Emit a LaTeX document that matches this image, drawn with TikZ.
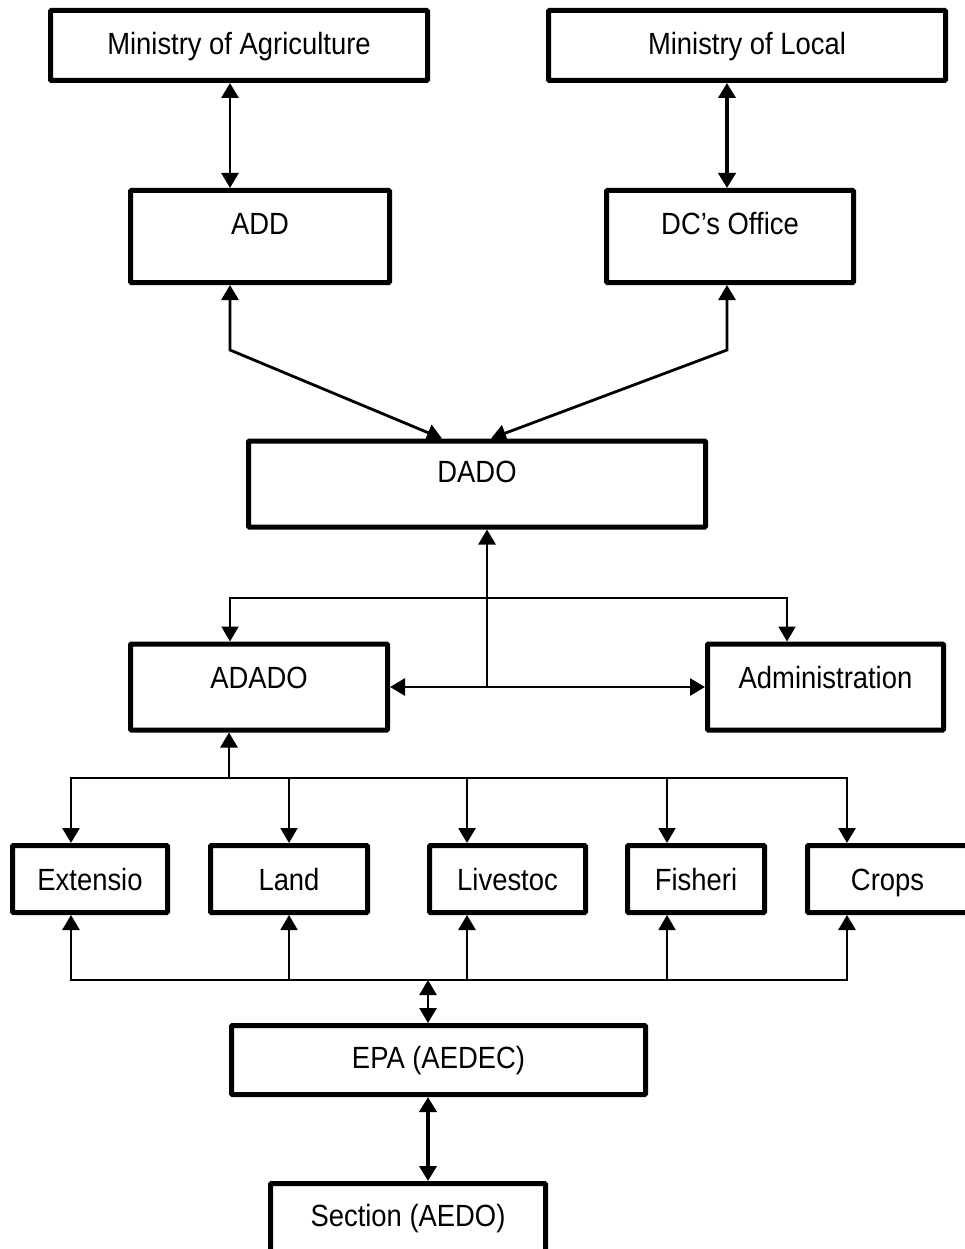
\documentclass[tikz,border=0pt]{standalone}
\usepackage{fontspec}
\setmainfont{Liberation Sans}
\usetikzlibrary{arrows.meta}
\newcommand{\bt}[2]{\raisebox{\dimexpr#1pt-11pt\relax}[0pt][0pt]{\scalebox{1}[1.12]{#2}}}
\begin{document}
\begin{tikzpicture}[x=1pt,y=-1pt,
  box/.style={draw, line width=5pt, inner sep=0pt, rounded corners=1pt, font=\fontsize{27.4}{30}\selectfont},
  con/.style={line width=2.8pt, line join=miter},
  thn/.style={line width=1.9pt, line join=miter},
  fat/.style={line width=4pt},
  tip/.style={-{Triangle[length=15pt,width=17pt]}},
  dbl/.style={{Triangle[length=15pt,width=17pt]}-{Triangle[length=15pt,width=17pt]}}]
\useasboundingbox (0,0) rectangle (964,1249);
% boxes
\node[box, minimum width=377pt, minimum height=70pt] (minag) at (239,45.5) {\bt{1.5}{Ministry of Agriculture}};
\node[box, minimum width=397pt, minimum height=70pt] (minloc) at (747,45.5) {\bt{1.5}{Ministry of Local}};
\node[box, minimum width=259pt, minimum height=92pt] (add) at (260,236.5) {\bt{12.5}{ADD}};
\node[box, minimum width=247pt, minimum height=92pt] (dc) at (730,236.5) {\bt{12.5}{DC’s Office}};
\node[box, minimum width=457pt, minimum height=86pt] (dado) at (477,484) {\bt{13}{DADO}};
\node[box, minimum width=257pt, minimum height=86pt] (adado) at (259,687) {\bt{10}{ADADO}};
\node[box, minimum width=236pt, minimum height=86pt] (admin) at (825.5,687) {\bt{10}{Administration}};
\node[box, minimum width=155pt, minimum height=67pt] (ext) at (90,879) {\bt{0}{Extensio}};
\node[box, minimum width=157pt, minimum height=67pt] (land) at (289,879) {\bt{0}{Land}};
\node[box, minimum width=156pt, minimum height=67pt] (live) at (507.5,879) {\bt{0}{Livestoc}};
\node[box, minimum width=137pt, minimum height=67pt] (fish) at (696,879) {\bt{0}{Fisheri}};
\node[box, minimum width=160pt, minimum height=67pt] (crops) at (887.5,879) {\bt{0}{Crops}};
\node[box, minimum width=414pt, minimum height=69pt] (epa) at (438.5,1060) {\bt{3}{EPA (AEDEC)}};
\node[box, minimum width=275pt, minimum height=69pt] (section) at (408,1218) {\bt{3}{Section (AEDO)}};
% helper coordinates
\coordinate (xa) at (230,0);
\coordinate (xb) at (727,0);
\coordinate (cL) at (230,350);
\coordinate (cR) at (727,350);
\coordinate (dL) at (442,0);
\coordinate (dR) at (491,0);
\coordinate (j1) at (487,598);
\coordinate (h1L) at (230,598);
\coordinate (h1R) at (787,598);
\coordinate (t0) at (229,778);
\coordinate (b1) at (71,778);
\coordinate (b2) at (289,778);
\coordinate (b3) at (467,778);
\coordinate (b4) at (667,778);
\coordinate (b5) at (847,778);
\coordinate (c1) at (71,980);
\coordinate (c2) at (289,980);
\coordinate (c3) at (467,980);
\coordinate (c4) at (667,980);
\coordinate (c5) at (847,980);
\coordinate (e0) at (428,980);
% connectors
\draw[con, dbl] (minag.south -| xa) -- (add.north -| xa);
\draw[fat, dbl] (minloc.south -| xb) -- (dc.north -| xb);
\draw[con, dbl] (add.south -| xa) -- (cL) -- (dado.north -| dL);
\draw[con, dbl] (dc.south -| xb) -- (cR) -- (dado.north -| dR);
\draw[con, tip] (j1) -- (dado.south -| j1);
\draw[thn, dbl] (adado.north -| h1L) -- (h1L) -- (h1R) -- (admin.north -| h1R);
\draw[thn] (j1) -- (j1 |- adado.east);
\draw[con, dbl] (adado.east) -- (admin.west);
\draw[con, tip] (t0) -- (adado.south -| t0);
\draw[con, dbl] (ext.north -| b1) -- (b1) -- (b5) -- (crops.north -| b5);
\draw[thn, tip] (b2) -- (land.north -| b2);
\draw[con, tip] (b3) -- (live.north -| b3);
\draw[thn, tip] (b4) -- (fish.north -| b4);
\draw[con, dbl] (ext.south -| c1) -- (c1) -- (c5) -- (crops.south -| c5);
\draw[thn, tip] (c2) -- (land.south -| c2);
\draw[con, tip] (c3) -- (live.south -| c3);
\draw[thn, tip] (c4) -- (fish.south -| c4);
\draw[con, dbl] (e0) -- (epa.north -| e0);
\draw[fat, dbl] (epa.south -| e0) -- (section.north -| e0);
\end{tikzpicture}
\end{document}
